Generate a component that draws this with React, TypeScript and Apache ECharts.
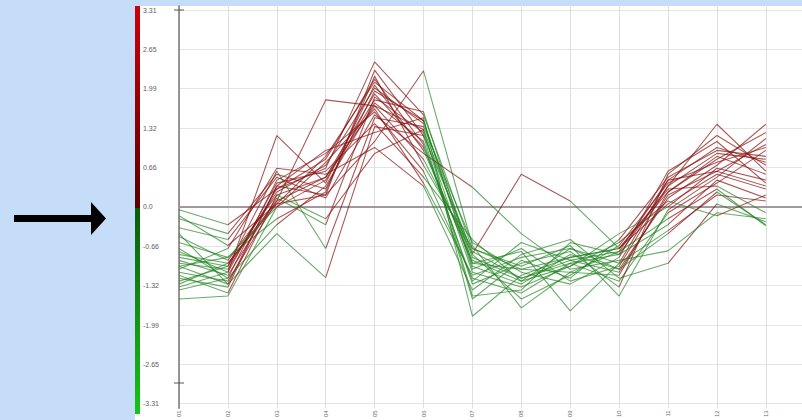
import React, { useEffect, useRef } from "react";
import * as echarts from "echarts";

// Time-point labels along the bottom axis
const xLabels = ["01", "02", "03", "04", "05", "06", "07", "08", "09", "10", "11", "12", "13"];

// Tick values on the expression axis
const yTicks = [3.31, 2.65, 1.99, 1.32, 0.66, 0.0, -0.66, -1.32, -1.99, -2.65, -3.31];

// Expression profiles, one array per gene (13 time points each)
const gene01 = [-0.95, -1.05, 0.3, 0.65, 2.44, 1.55, -0.7, -1.05, -0.85, -0.7, 0.25, 0.85, 0.55];
const gene02 = [-1.1, -1.25, 0.1, 1.8, 1.7, 1.3, -0.85, -1.2, -0.95, -0.8, 0.35, 1.39, 0.6];
const gene03 = [-0.75, -1.1, 1.2, 0.4, 2.05, 0.95, -0.9, -1.25, -0.7, -0.95, 0.45, 1.0, 0.75];
const gene04 = [-1.3, -0.95, 0.05, 0.2, 1.1, 2.29, -0.65, -1.7, -1.1, -0.75, -0.2, 0.3, -0.32];
const gene05 = [-0.5, -0.9, 0.2, 0.5, 1.7, 0.8, -0.79, 0.55, 0.1, -0.7, 0.05, 0.55, 0.3];
const gene06 = [-0.2, -0.45, 0.55, 0.3, 1.95, 1.45, -1.0, -1.3, -0.8, -1.05, 0.15, 0.7, 1.39];
const gene07 = [-1.0, -1.3, -0.45, -1.19, 1.35, 1.2, -1.55, -0.9, -1.2, -0.55, 0.5, 0.95, 0.85];
const gene08 = [-1.4, -1.2, 0.45, 0.9, 1.6, 0.6, -1.2, -1.45, -0.95, -1.25, -0.1, 0.4, 0.95];
const gene09 = [-0.85, -1.0, 0.6, -0.7, 1.5, 1.35, -0.6, -1.1, -1.3, -0.85, 0.6, 1.1, 0.4];
const gene10 = [-0.05, -0.3, 0.3, 0.8, 2.15, 1.05, -1.25, -0.6, -0.9, -1.1, 0.2, 0.6, 1.05];
const gene11 = [-1.55, -1.5, 0.0, 0.45, 1.8, 1.6, -0.95, -0.75, -1.75, -0.95, -0.4, 0.2, 0.1];
const gene12 = [-0.6, -0.85, -0.2, 0.25, 2.2, 0.7, -0.7, -1.0, -0.65, -1.5, -0.05, 0.5, 1.15];
const gene13 = [-1.2, -1.35, 0.35, 0.95, 1.25, 1.5, -1.84, -1.15, -0.85, -0.7, 0.3, 0.35, -0.1];
const gene14 = [-0.9, -1.15, 0.15, -0.3, 1.85, 1.25, -1.1, -1.35, -1.0, -0.6, 0.1, -0.15, 0.2];
const gene15 = [-1.05, -0.7, 0.65, 0.55, 1.0, 0.35, -1.4, -0.8, -0.55, -1.2, -0.95, 0.05, -0.25];
const gene16 = [-0.35, -0.55, 0.5, 0.15, 1.55, 0.9, 0.33, -0.45, -1.05, -0.9, -0.74, -0.1, -0.2];
const gene17 = [-1.25, -1.0, 0.25, 0.7, 2.0, 1.4, -0.8, -1.55, -1.15, -0.65, 0.4, 0.75, 1.0];
const gene18 = [-0.7, -1.2, -0.3, 0.35, 1.75, 1.1, -1.3, -0.95, -0.75, -1.35, 0.55, 1.2, 0.7];
const gene19 = [-1.35, -1.1, 0.4, 0.6, 1.4, 0.5, -0.55, -1.25, -1.0, -0.45, 0.0, 0.65, 0.45];
const gene20 = [-0.15, -0.65, 0.05, 0.85, 2.1, 1.45, -1.05, -0.7, -1.25, -1.0, 0.35, 0.9, 0.8];
const gene21 = [-1.15, -1.45, 0.2, -0.2, 0.9, 1.3, -1.5, -1.4, -0.6, -0.8, -0.3, 0.45, 0.15];
const gene22 = [-0.8, -0.95, 0.1, 0.5, 1.9, 1.0, -0.95, -1.05, -1.1, -1.15, 0.25, 0.8, 1.25];
const gene23 = [-0.45, -1.3, 0.35, 0.2, 2.3, 1.2, -0.75, -1.2, -0.9, -0.75, 0.45, 0.6, 0.35];
const gene24 = [-1.0, -0.85, 0.0, 0.75, 1.65, 0.4, -1.15, -0.85, -0.7, -1.05, -0.45, 0.25, -0.3];

const profiles = [
  gene01, gene02, gene03, gene04, gene05, gene06, gene07, gene08,
  gene09, gene10, gene11, gene12, gene13, gene14, gene15, gene16,
  gene17, gene18, gene19, gene20, gene21, gene22, gene23, gene24,
];

const UP = "rgba(135,18,18,0.7)";
const DOWN = "rgba(28,128,28,0.66)";

// Each segment takes its colour from the sign of the value it ends on
function segmentGradient(values: number[]) {
  const n = values.length - 1;
  const stops: { offset: number; color: string }[] = [];
  for (let k = 1; k <= n; k++) {
    const c = values[k] > 0 ? UP : DOWN;
    stops.push({ offset: (k - 1) / n, color: c });
    stops.push({ offset: k / n, color: c });
  }
  return new echarts.graphic.LinearGradient(0, 0, 1, 0, stops);
}

export default function App() {
  const ref = useRef<HTMLDivElement>(null);

  useEffect(() => {
    if (!ref.current) return;
    const chart = echarts.init(ref.current, null, { renderer: "svg" });

    const series: any[] = profiles.map((vals, i) => ({
      type: "line",
      data: vals.map((v, j) => [j, v]),
      symbol: "none",
      silent: true,
      lineStyle: { width: 1.1, color: segmentGradient(vals) },
      z: 3,
      ...(i === 0
        ? {
            markLine: {
              silent: true,
              symbol: "none",
              label: { show: false },
              lineStyle: { color: "#9b8d95", width: 1.5, type: "solid" },
              data: [{ yAxis: 0 }],
              z: 2,
            },
          }
        : {}),
    }));

    chart.setOption({
      animation: false,
      grid: { left: 179, right: 0, top: 6, bottom: 9, containLabel: false },
      xAxis: {
        type: "value",
        min: 0,
        max: 12.74,
        interval: 1,
        axisLine: { show: true, lineStyle: { color: "#a9a9a9", width: 1.5 } },
        axisTick: { show: false },
        splitLine: { show: true, lineStyle: { color: "#dedede", width: 1 } },
        axisLabel: {
          rotate: 90,
          fontSize: 6,
          color: "#6a6a6a",
          margin: 2,
          fontFamily: "Liberation Sans, Arial, sans-serif",
          formatter: (v: number) => (Number.isInteger(v) && xLabels[v] !== undefined ? xLabels[v] : ""),
        },
      },
      yAxis: {
        type: "value",
        min: -3.39,
        max: 3.38,
        axisLine: { show: true, lineStyle: { color: "#7e7272", width: 1.5 } },
        axisTick: { show: false, customValues: yTicks },
        splitLine: { show: true, lineStyle: { color: "#e4e4e4", width: 1 } },
        axisLabel: {
          customValues: yTicks,
          align: "left",
          margin: 36,
          fontSize: 7,
          color: "#5e5e5e",
          fontFamily: "Liberation Sans, Arial, sans-serif",
          formatter: (v: number) => (v === 0 ? "0.0" : v.toFixed(2)),
        },
      },
      graphic: [
        // white plotting panel
        { type: "rect", z: -100, shape: { x: 135, y: 6, width: 667, height: 414 }, style: { fill: "#ffffff" } },
        // up/down colour key beside the axis
        {
          type: "rect",
          z: -50,
          shape: { x: 135, y: 6, width: 5, height: 202 },
          style: {
            fill: new echarts.graphic.LinearGradient(0, 0, 0, 1, [
              { offset: 0, color: "#cc0008" },
              { offset: 1, color: "#580000" },
            ]),
          },
        },
        {
          type: "rect",
          z: -50,
          shape: { x: 135, y: 208, width: 5, height: 206 },
          style: {
            fill: new echarts.graphic.LinearGradient(0, 0, 0, 1, [
              { offset: 0, color: "#0a5c0a" },
              { offset: 1, color: "#18c418" },
            ]),
          },
        },
        // small cross marks on the axis
        { type: "line", z: 10, shape: { x1: 174, y1: 10, x2: 184, y2: 10 }, style: { stroke: "#555", lineWidth: 1 } },
        { type: "line", z: 10, shape: { x1: 174, y1: 383, x2: 184, y2: 383 }, style: { stroke: "#555", lineWidth: 1 } },
        // pointer arrow
        { type: "rect", shape: { x: 14, y: 215, width: 80, height: 7 }, style: { fill: "#000" } },
        {
          type: "polygon",
          shape: { points: [[91, 202], [106, 218.5], [91, 235]] },
          style: { fill: "#000" },
        },
      ],
      series,
    });

    return () => chart.dispose();
  }, []);

  return (
    <div
      style={{ position: "absolute", left: 0, top: 0, width: 802, height: 420, background: "#c6ddfa" }}
    >
      <div ref={ref} style={{ width: 802, height: 420 }} />
    </div>
  );
}
